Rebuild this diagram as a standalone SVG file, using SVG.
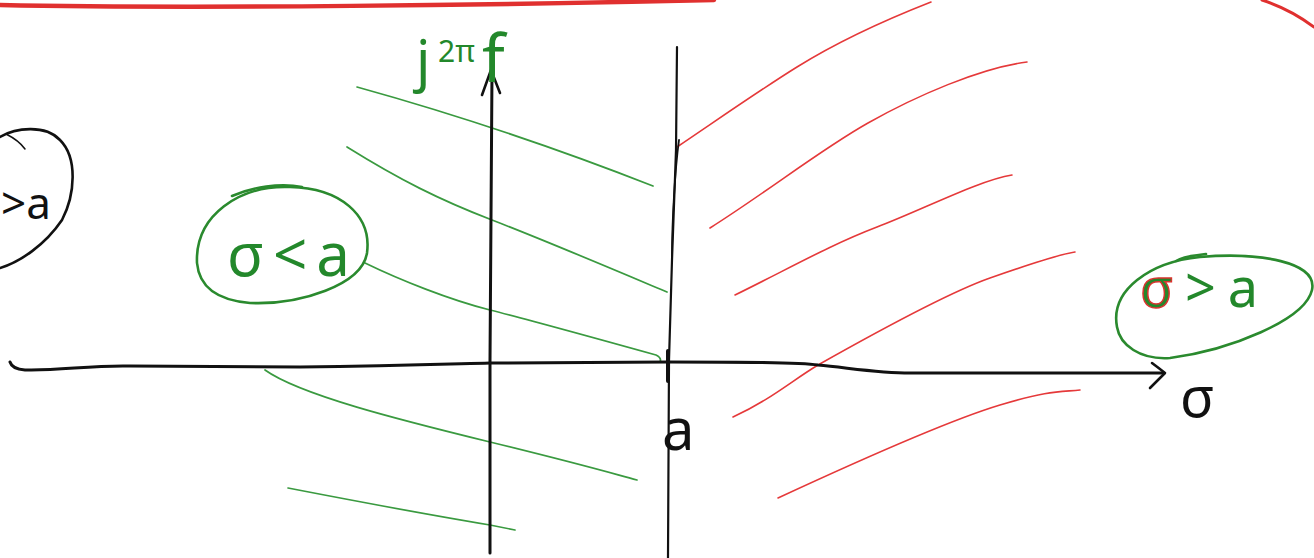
<svg xmlns="http://www.w3.org/2000/svg" width="1314" height="558" viewBox="0 0 1314 558">
  <style>
    .blk { fill: none; stroke: #111; stroke-linecap: round; stroke-linejoin: round; }
    .red { fill: none; stroke: #e5393a; stroke-width: 1.6; stroke-linecap: round; }
    .grn { fill: none; stroke: #3a9a40; stroke-width: 1.7; stroke-linecap: round; }
    .ell { fill: none; stroke: #2a8a2e; stroke-width: 2.6; stroke-linecap: round; }
    .gtxt { fill: #23882b; font-family: "Noto Sans", "DejaVu Sans", sans-serif; }
    .ktxt { fill: #111; font-family: "Noto Sans", "DejaVu Sans", sans-serif; }
  </style>
  <rect width="1314" height="558" fill="#ffffff"/>

  <g id="top-red-strokes">
    <path d="M0,5 C200,9 500,5 714,0" fill="none" stroke="#e0302f" stroke-width="4.5" stroke-linecap="round"/>
    <path d="M1262,0 Q1290,9 1314,27" fill="none" stroke="#e0302f" stroke-width="3" stroke-linecap="round"/>
  </g>

  <g id="left-partial-region">
    <path class="blk" stroke-width="2.6" d="M0,137 C15,128 45,124 60,140 C78,158 75,195 62,220 C45,245 20,262 0,268"/>
    <path class="blk" stroke-width="1.5" d="M6,134 C14,138 20,142 25,149"/>
    <text class="ktxt" x="1" y="219" font-size="44">&gt;a</text>
  </g>

  <g id="hatching-green">
    <path class="grn" d="M357,87 Q505,128 653,186"/>
    <path class="grn" d="M347,147 C400,180 440,200 492,220 S610,268 667,292"/>
    <path class="grn" d="M365,263 C400,280 450,300 490,310 S620,345 656,355 Q662,358 660,362"/>
    <path class="grn" stroke-width="2.4" d="M265,370 C300,395 400,420 490,442 S600,470 637,480"/>
    <path class="grn" d="M288,488 C350,500 430,515 490,525 L515,530"/>
  </g>

  <g id="hatching-red">
    <path class="red" d="M677,147 C720,118 760,90 797,67 S880,22 931,2"/>
    <path class="red" d="M710,228 C770,190 820,150 868,123 S980,68 1027,62"/>
    <path class="red" d="M735,295 C790,268 830,245 877,227 S980,180 1012,175"/>
    <path class="red" d="M733,417 C770,400 790,382 818,365 C880,330 950,292 990,278 S1060,254 1075,252"/>
    <path class="red" d="M778,498 C860,460 950,420 1000,405 S1060,392 1080,390"/>
  </g>

  <g id="connectors">
    <g id="sigma-axis">
      <path class="blk" stroke-width="3" d="M10,362 Q12,369 25,370 C60,371 90,365 130,366 L300,367 C400,366 450,364 490,363 L668,362 C740,362 800,362 818,365 C850,368 880,373 910,373 L1164,373"/>
      <path class="blk" stroke-width="2.6" d="M1152,363 Q1160,369 1165,373 Q1158,380 1150,388"/>
    </g>
    <g id="jw-axis">
      <path class="blk" stroke-width="3" d="M490,553 L490,360 L492,72"/>
      <path class="blk" stroke-width="2.6" d="M482,95 L491,70 L500,93"/>
    </g>
    <g id="a-line">
      <path class="blk" stroke-width="2.2" d="M677,47 L676,150 L672,260 L669,360 L668,558"/>
      <path class="blk" stroke-width="1.8" d="M679,140 C675,170 672,220 672,258"/>
      <path class="blk" stroke-width="4" d="M668,351 L668,381"/>
    </g>
  </g>

  <g id="label-jw">
    <text class="gtxt" y="80" font-size="56"><tspan x="416">j</tspan><tspan x="438" y="62" font-size="30">2π</tspan><tspan x="482" y="82" font-size="66">f</tspan></text>
  </g>

  <g id="node-sigma-less-a">
    <path class="ell" d="M197,263 C195,215 240,185 290,187 C340,188 372,215 367,253 C362,285 300,305 250,303 C215,300 199,285 197,263"/>
    <path class="ell" stroke-width="1.4" d="M232,196 C252,187 280,183 302,187"/>
    <text class="gtxt" x="227" y="276" font-size="60" textLength="123" lengthAdjust="spacing">σ&lt;a</text>
  </g>

  <g id="node-sigma-greater-a">
    <path class="ell" d="M1117,327 C1110,290 1150,262 1200,257 C1260,252 1318,262 1312,290 C1305,320 1230,350 1170,358 C1140,360 1120,345 1117,327"/>
    <path class="ell" stroke-width="1.4" d="M1176,261 C1186,255 1196,256 1206,254"/>
    <text class="gtxt" x="1140" y="307" font-size="54" textLength="118" lengthAdjust="spacing"><tspan stroke="#d8342f" stroke-width="1.5">σ</tspan>&gt;a</text>
  </g>

  <g id="label-a">
    <text class="ktxt" x="662" y="450" font-size="58">a</text>
  </g>
  <g id="label-sigma">
    <text class="ktxt" x="1180" y="417" font-size="56">σ</text>
  </g>
</svg>
